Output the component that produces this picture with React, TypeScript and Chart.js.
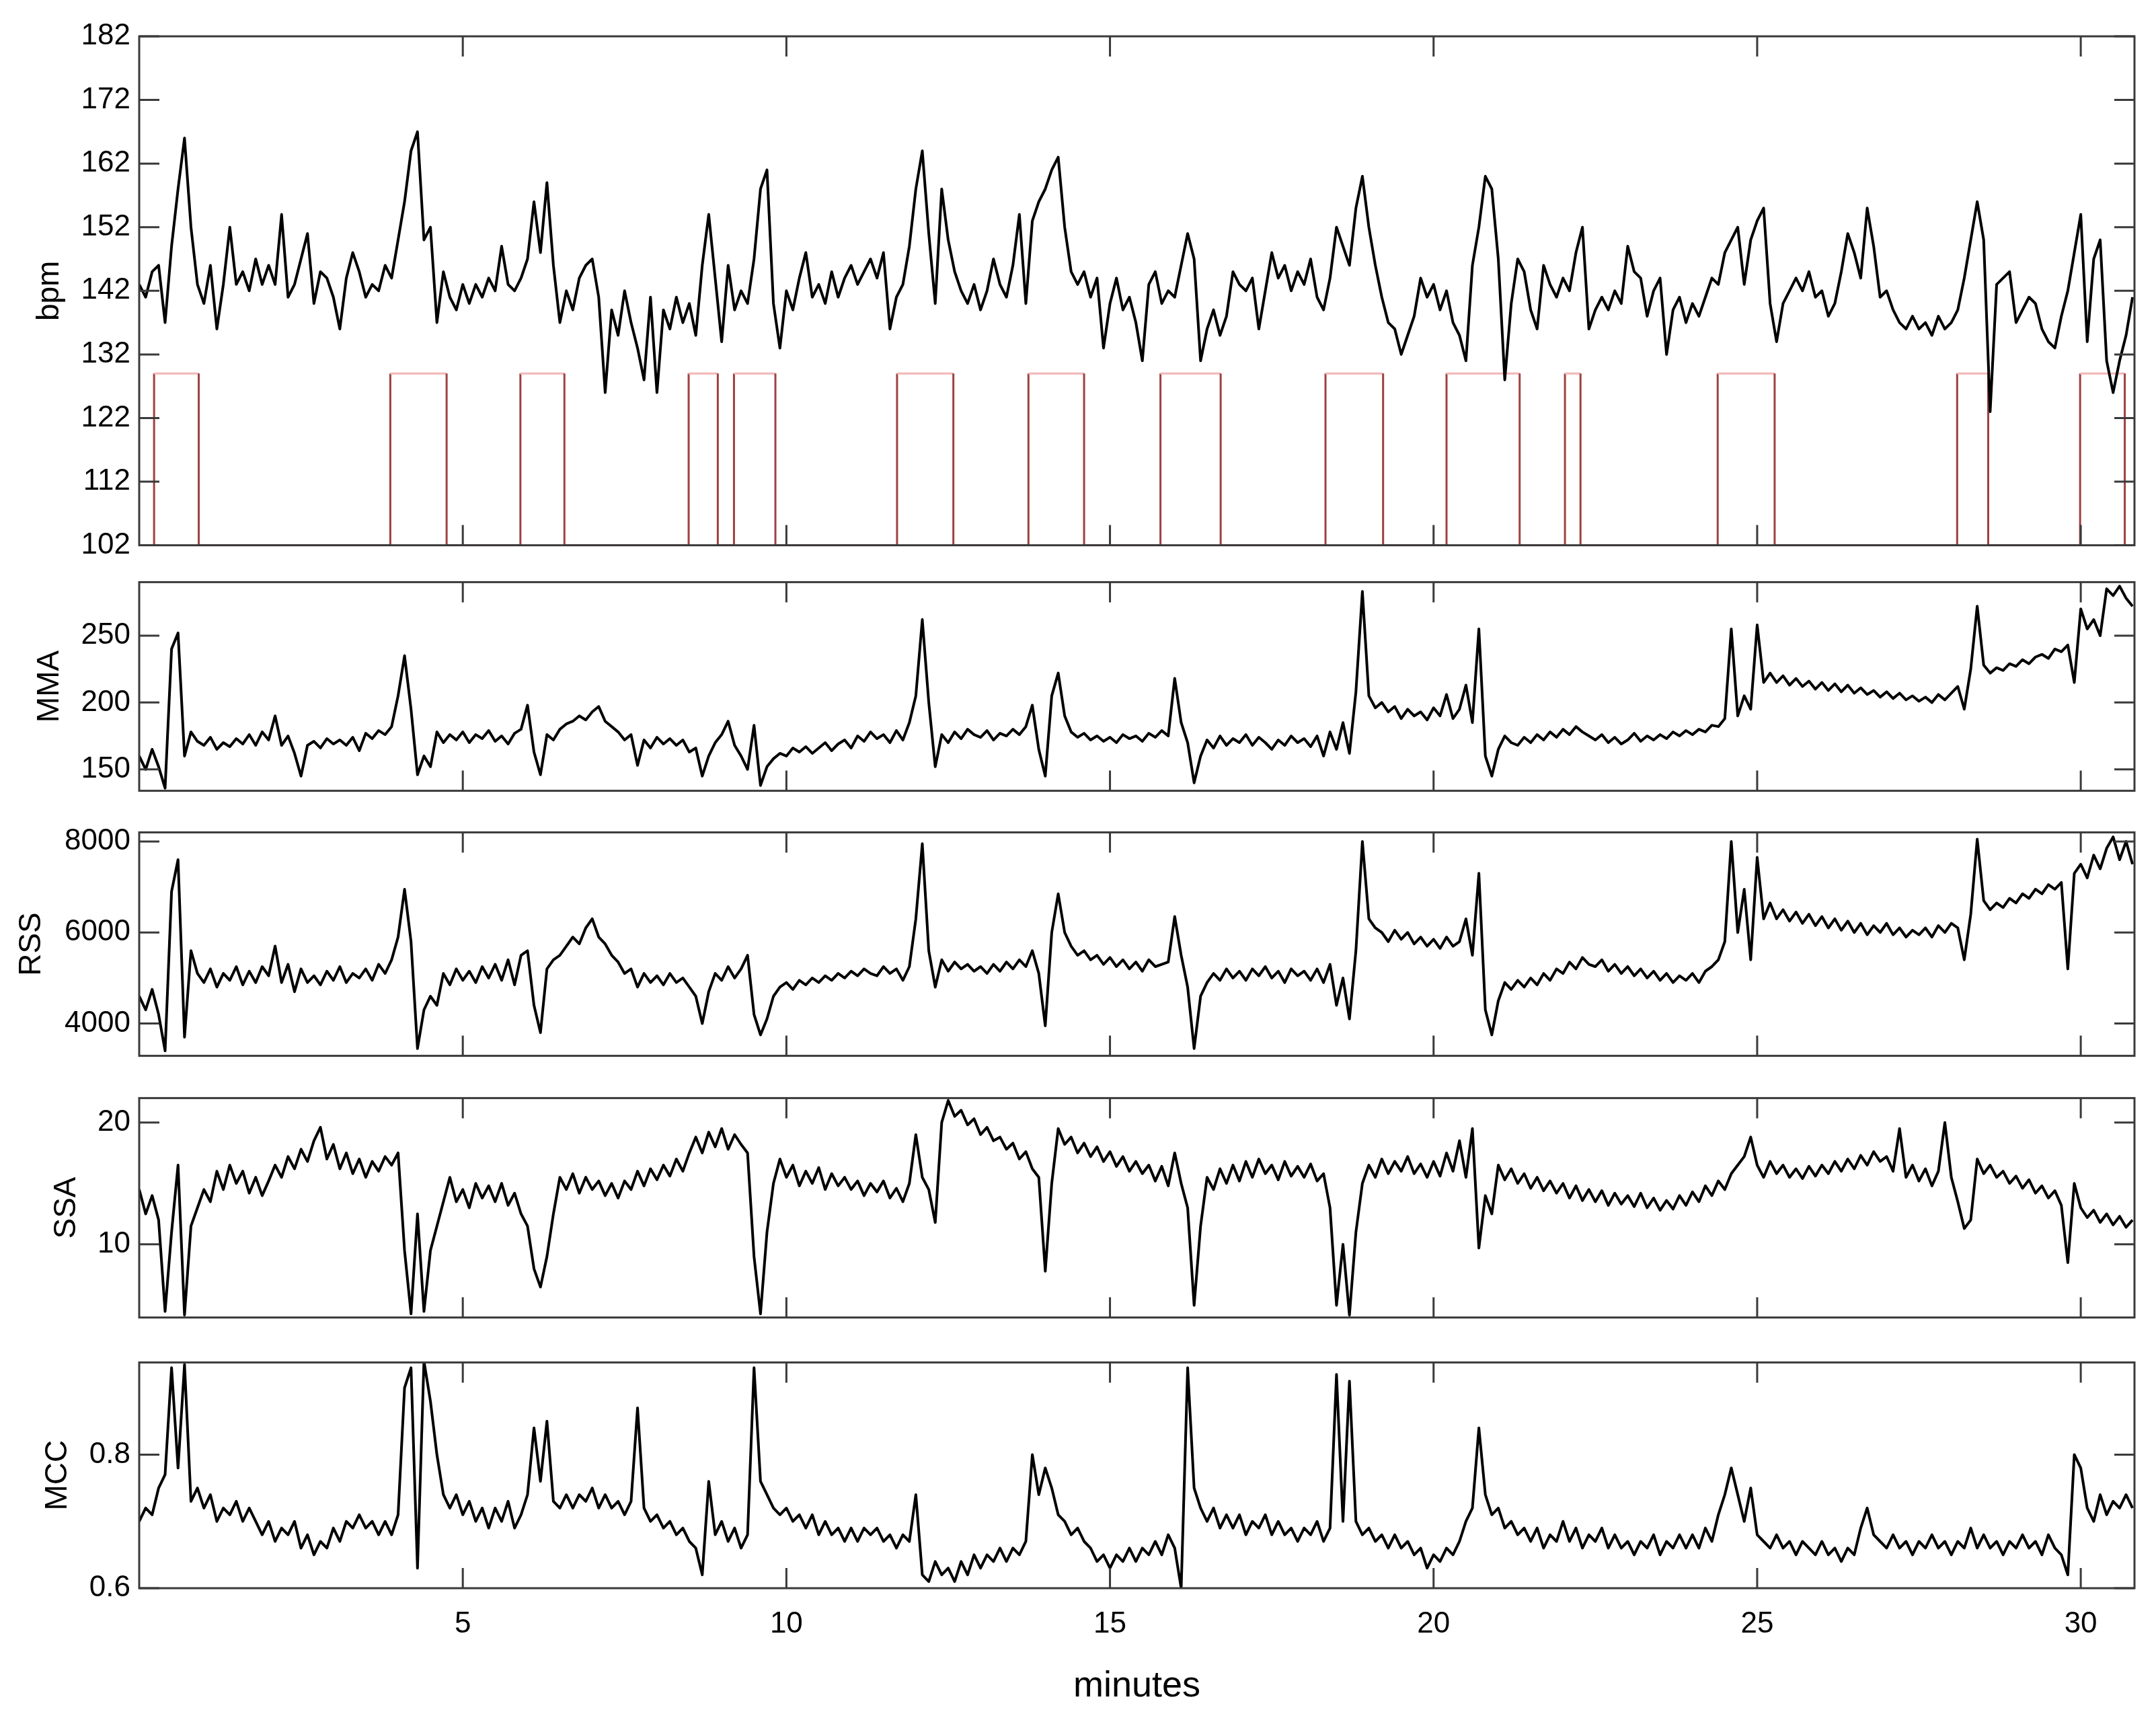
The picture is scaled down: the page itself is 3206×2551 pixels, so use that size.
import React, { useEffect, useRef } from 'react';
import { Chart, registerables } from 'chart.js';

Chart.register(...registerables);

// ---------------- data ----------------
const SAMPLE_STEP = 0.1; // minutes between samples
const X_MIN = 0;
const X_MAX = 30.83;
const X_TICKS = [5, 10, 15, 20, 25, 30];

const BPM = [
  143,141,145,146,137,149,158,166,152,143,
  140,146,136,143,152,143,145,142,147,143,
  146,143,154,141,143,147,151,140,145,144,
  141,136,144,148,145,141,143,142,146,144,
  150,156,164,167,150,152,137,145,141,139,
  143,140,143,141,144,142,149,143,142,144,
  147,156,148,159,146,137,142,139,144,146,
  147,141,126,139,135,142,137,133,128,141,
  126,139,136,141,137,140,135,146,154,144,
  134,146,139,142,140,147,158,161,140,133,
  142,139,144,148,141,143,140,145,141,144,
  146,143,145,147,144,148,136,141,143,149,
  158,164,151,140,158,150,145,142,140,143,
  139,142,147,143,141,146,154,140,153,156,
  158,161,163,152,145,143,145,141,144,133,
  140,144,139,141,137,131,143,145,140,142,
  141,146,151,147,131,136,139,135,138,145,
  143,142,144,136,142,148,144,146,142,145,
  143,147,141,139,144,152,149,146,155,160,
  152,146,141,137,136,132,135,138,144,141,
  143,139,142,137,135,131,146,152,160,158,
  147,128,140,147,145,139,136,146,143,141,
  144,142,148,152,136,139,141,139,142,140,
  149,145,144,138,142,144,132,139,141,137,
  140,138,141,144,143,148,150,152,143,150,
  153,155,140,134,140,142,144,142,145,141,
  142,138,140,145,151,148,144,155,149,141,
  142,139,137,136,138,136,137,135,138,136,
  137,139,144,150,156,150,123,143,144,145,
  137,139,141,140,136,134,133,138,142,148,
  154,134,147,150,131,126,131,135,141,
];

const MMA = [
  160,150,165,152,136,240,252,160,178,171,
  168,174,165,170,167,173,169,176,168,178,
  172,190,168,175,162,145,168,171,166,173,
  169,172,168,174,164,177,173,179,176,182,
  205,235,195,146,160,152,178,170,176,172,
  178,170,176,173,179,171,175,169,177,180,
  198,163,146,176,172,180,184,186,190,187,
  193,197,186,182,178,172,176,153,172,166,
  174,169,173,168,172,163,166,145,160,170,
  176,186,168,160,150,183,138,152,158,162,
  160,166,163,167,162,166,170,164,169,172,
  166,175,171,178,173,176,170,179,172,185,
  205,262,200,152,176,170,178,173,180,176,
  174,179,172,177,175,180,176,182,198,165,
  145,205,222,190,178,174,177,172,175,171,
  174,170,176,173,175,171,177,174,179,175,
  218,185,170,140,160,172,166,175,168,173,
  170,176,168,174,170,165,172,168,175,170,
  173,167,175,160,178,165,185,162,208,283,
  205,196,200,193,197,188,195,190,193,187,
  196,190,206,188,195,213,185,255,160,145,
  165,175,170,168,174,170,176,172,178,174,
  180,176,182,178,175,172,176,170,174,169,
  172,177,171,175,172,176,173,178,175,179,
  176,180,178,183,182,188,255,190,205,195,
  258,215,222,215,220,213,218,212,216,210,
  215,209,214,208,213,207,211,206,209,204,
  208,203,207,202,205,201,204,200,206,202,
  207,212,195,225,272,228,222,226,224,229,
  227,232,229,234,236,233,240,238,243,215,
  270,255,262,250,285,280,287,278,272,
];

const RSS = [
  4600,4300,4750,4200,3400,6900,7600,3700,5600,5100,
  4900,5200,4800,5100,4950,5250,4850,5150,4900,5250,
  5050,5700,4900,5300,4700,5200,4900,5050,4850,5150,
  4950,5250,4900,5100,5000,5200,4950,5300,5100,5400,
  5900,6950,5800,3450,4300,4600,4400,5100,4850,5200,
  4950,5150,4900,5250,5000,5300,4950,5400,4850,5500,
  5600,4400,3800,5200,5400,5500,5700,5900,5750,6100,
  6300,5900,5750,5500,5350,5100,5200,4800,5100,4900,
  5050,4850,5100,4900,5000,4800,4600,4000,4700,5100,
  4950,5250,5000,5200,5500,4200,3750,4100,4600,4800,
  4900,4750,4950,4850,5000,4900,5050,4950,5100,5000,
  5150,5050,5200,5100,5050,5250,5100,5200,4950,5250,
  6300,7950,5600,4800,5400,5150,5350,5200,5300,5150,
  5250,5100,5300,5150,5350,5200,5400,5250,5600,5100,
  3950,6000,6850,6000,5700,5500,5600,5400,5500,5300,
  5450,5250,5400,5200,5350,5150,5400,5250,5300,5350,
  6350,5500,4800,3450,4600,4900,5100,4950,5200,5000,
  5150,4950,5200,5050,5250,5000,5150,4900,5200,5050,
  5150,4950,5200,4900,5300,4400,5000,4100,5600,8000,
  6300,6100,6000,5800,6050,5850,6000,5750,5900,5700,
  5850,5650,5900,5700,5800,6300,5500,7300,4300,3750,
  4500,4900,4750,4950,4800,5000,4850,5100,4950,5200,
  5100,5350,5200,5450,5300,5250,5400,5150,5300,5100,
  5250,5050,5200,5000,5150,4950,5100,4900,5050,4950,
  5100,4900,5150,5250,5400,5800,8000,6000,6950,5400,
  7650,6300,6650,6300,6500,6250,6450,6200,6400,6150,
  6350,6100,6300,6050,6250,6000,6200,5950,6150,6000,
  6200,5950,6100,5900,6050,5950,6100,5900,6150,6000,
  6200,6100,5400,6400,8050,6700,6500,6650,6550,6750,
  6650,6850,6750,6950,6850,7050,6950,7100,5200,7300,
  7500,7200,7700,7400,7850,8100,7600,8000,7500,
];

const SSA = [
  14.5,12.5,14,12,4.5,11,16.5,4.2,11.5,13,
  14.5,13.5,16,14.5,16.5,15,16,14.2,15.5,14,
  15.2,16.5,15.5,17.2,16.2,17.8,16.8,18.5,19.6,17,
  18.2,16.2,17.5,15.8,17,15.5,16.8,16,17.2,16.5,
  17.5,9.5,4.3,12.5,4.5,9.5,11.5,13.5,15.5,13.5,
  14.5,13,15,13.8,14.8,13.5,15,13.2,14.2,12.5,
  11.5,8,6.5,9,12.5,15.5,14.5,15.8,14.2,15.5,
  14.5,15.2,14,15,13.8,15.2,14.5,16,14.8,16.2,
  15.3,16.5,15.6,17,16,17.5,18.8,17.5,19.2,18,
  19.5,17.8,19,18.2,17.5,9,4.3,11,15,17,
  15.5,16.5,14.8,16,15,16.3,14.5,15.8,14.8,15.5,
  14.5,15.2,14,15,14.3,15.2,13.8,14.6,13.5,15,
  19,15.5,14.5,11.8,20,21.8,20.5,21,19.8,20.3,
  19,19.6,18.5,18.8,17.8,18.3,17,17.6,16.2,15.5,
  7.8,15,19.5,18.2,18.8,17.5,18.3,17.2,18,16.8,
  17.6,16.4,17.2,16,16.8,15.8,16.5,15.2,16.4,14.8,
  17.5,15,13,5,11.5,15.5,14.5,16.2,15,16.5,
  15.2,16.8,15.5,17,15.8,16.5,15.3,16.8,15.6,16.4,
  15.5,16.6,15.2,15.8,13,5,10,4.2,11,15,
  16.5,15.5,17,15.8,16.8,16,17.2,15.8,16.6,15.5,
  16.8,15.6,17.5,16,18.5,15.5,19.5,9.7,14,12.5,
  16.5,15.3,16.2,15,15.8,14.6,15.5,14.4,15.2,14.2,
  15,13.8,14.8,13.6,14.5,13.5,14.4,13.2,14.2,13.3,
  14,13.1,14.2,13,13.8,12.8,13.6,12.9,14,13.2,
  14.3,13.5,14.8,14,15.2,14.5,15.8,16.5,17.2,18.8,
  16.5,15.5,16.8,15.8,16.5,15.5,16.2,15.4,16.4,15.6,
  16.5,15.8,16.8,16,17,16.2,17.3,16.5,17.6,16.8,
  17.2,16,19.5,15.5,16.5,15.2,16.2,14.8,16,20,
  15.5,13.5,11.3,12,17,15.8,16.5,15.5,16,15,
  15.6,14.6,15.3,14.2,14.8,13.8,14.4,13.2,8.5,15,
  13,12.2,12.8,11.8,12.5,11.6,12.3,11.4,12,
];

const MCC = [
  0.70,0.72,0.71,0.75,0.77,0.93,0.78,0.935,0.73,0.75,
  0.72,0.74,0.70,0.72,0.71,0.73,0.70,0.72,0.70,0.68,
  0.70,0.67,0.69,0.68,0.70,0.66,0.68,0.65,0.67,0.66,
  0.69,0.67,0.70,0.69,0.71,0.69,0.70,0.68,0.70,0.68,
  0.71,0.90,0.93,0.63,0.94,0.88,0.80,0.74,0.72,0.74,
  0.71,0.73,0.70,0.72,0.69,0.72,0.70,0.73,0.69,0.71,
  0.74,0.84,0.76,0.85,0.73,0.72,0.74,0.72,0.74,0.73,
  0.75,0.72,0.74,0.72,0.73,0.71,0.73,0.87,0.72,0.70,
  0.71,0.69,0.70,0.68,0.69,0.67,0.66,0.62,0.76,0.68,
  0.70,0.67,0.69,0.66,0.68,0.93,0.76,0.74,0.72,0.71,
  0.72,0.70,0.71,0.69,0.71,0.68,0.70,0.68,0.69,0.67,
  0.69,0.67,0.69,0.68,0.69,0.67,0.68,0.66,0.68,0.67,
  0.74,0.62,0.61,0.64,0.62,0.63,0.61,0.64,0.62,0.65,
  0.63,0.65,0.64,0.66,0.64,0.66,0.65,0.67,0.80,0.74,
  0.78,0.75,0.71,0.70,0.68,0.69,0.67,0.66,0.64,0.65,
  0.63,0.65,0.64,0.66,0.64,0.66,0.65,0.67,0.65,0.68,
  0.66,0.60,0.93,0.75,0.72,0.70,0.72,0.69,0.71,0.69,
  0.71,0.68,0.70,0.69,0.71,0.68,0.70,0.68,0.69,0.67,
  0.69,0.68,0.70,0.67,0.69,0.92,0.70,0.91,0.70,0.68,
  0.69,0.67,0.68,0.66,0.68,0.66,0.67,0.65,0.66,0.63,
  0.65,0.64,0.66,0.65,0.67,0.70,0.72,0.84,0.74,0.71,
  0.72,0.69,0.70,0.68,0.69,0.67,0.69,0.66,0.68,0.67,
  0.70,0.67,0.69,0.66,0.68,0.67,0.69,0.66,0.68,0.66,
  0.67,0.65,0.67,0.66,0.68,0.65,0.67,0.66,0.68,0.66,
  0.68,0.66,0.69,0.67,0.71,0.74,0.78,0.74,0.70,0.75,
  0.68,0.67,0.66,0.68,0.66,0.67,0.65,0.67,0.66,0.65,
  0.67,0.65,0.66,0.64,0.66,0.65,0.69,0.72,0.68,0.67,
  0.66,0.68,0.66,0.67,0.65,0.67,0.66,0.68,0.66,0.67,
  0.65,0.67,0.66,0.69,0.66,0.68,0.66,0.67,0.65,0.67,
  0.66,0.68,0.66,0.67,0.65,0.68,0.66,0.65,0.62,0.80,
  0.78,0.72,0.70,0.74,0.71,0.73,0.72,0.74,0.72,
];

// indicator boxes (minutes) drawn in the bpm panel
const BOX_STARTS = [0.23, 3.88, 5.89, 8.49, 9.19, 11.71, 13.74, 15.78, 18.33, 20.2, 22.03, 24.39, 28.09, 29.99];
const BOX_ENDS = [0.92, 4.75, 6.57, 8.94, 9.83, 12.58, 14.6, 16.71, 19.22, 21.33, 22.27, 25.27, 28.57, 30.68];
const BOX_LOW = 102;
const BOX_HIGH = 129;

const BPM_TICKS = [102, 112, 122, 132, 142, 152, 162, 172, 182];
const MMA_TICKS = [150, 200, 250];
const RSS_TICKS = [4000, 6000, 8000];
const SSA_TICKS = [10, 20];
const MCC_TICKS = [0.6, 0.8];

// ---------------- layout ----------------
const W = 3206;
const H = 2551;
const PLOT_LEFT = 207;
const PLOT_RIGHT = 3174;
const TICK_LEN = 30;
const FONT = '"Liberation Sans", Arial, Helvetica, sans-serif';

type Spec = {
  label: string;
  values: number[];
  ticks: number[];
  min: number;
  max: number;
  top: number;
  bottom: number;
  canvasTop: number;
  canvasBottom: number;
  titleCenter: number;
  showX: boolean;
  boxes?: boolean;
};

const PANELS: Spec[] = [
  { label: 'bpm', values: BPM, ticks: BPM_TICKS, min: 102, max: 182, top: 54, bottom: 816, canvasTop: 0, canvasBottom: 850, titleCenter: 74, showX: false, boxes: true },
  { label: 'MMA', values: MMA, ticks: MMA_TICKS, min: 134, max: 290, top: 856, bottom: 1185, canvasTop: 826, canvasBottom: 1215, titleCenter: 74, showX: false },
  { label: 'RSS', values: RSS, ticks: RSS_TICKS, min: 3290, max: 8200, top: 1228, bottom: 1579, canvasTop: 1198, canvasBottom: 1609, titleCenter: 47, showX: false },
  { label: 'SSA', values: SSA, ticks: SSA_TICKS, min: 4, max: 22, top: 1623, bottom: 1968, canvasTop: 1593, canvasBottom: 1998, titleCenter: 99, showX: false },
  { label: 'MCC', values: MCC, ticks: MCC_TICKS, min: 0.6, max: 0.938, top: 2016, bottom: 2361, canvasTop: 1986, canvasBottom: H, titleCenter: 86, showX: true },
];

const framePlugin = {
  id: 'matlabFrame',
  afterDatasetsDraw(chart: any) {
    const { ctx, chartArea } = chart;
    const { left, right, top, bottom } = chartArea;
    const xs = chart.scales.x;
    const ys = chart.scales.y;
    ctx.save();
    ctx.strokeStyle = '#3a3a3a';
    ctx.lineWidth = 3;
    ctx.beginPath();
    for (const v of X_TICKS) {
      const px = xs.getPixelForValue(v);
      ctx.moveTo(px, bottom);
      ctx.lineTo(px, bottom - TICK_LEN);
      ctx.moveTo(px, top);
      ctx.lineTo(px, top + TICK_LEN);
    }
    for (const t of ys.ticks) {
      const py = ys.getPixelForValue(t.value);
      ctx.moveTo(left, py);
      ctx.lineTo(left + TICK_LEN, py);
      ctx.moveTo(right, py);
      ctx.lineTo(right - TICK_LEN, py);
    }
    ctx.stroke();
    ctx.strokeRect(left, top, right - left, bottom - top);
    ctx.restore();
  },
};

function buildConfig(spec: Spec): any {
  const pts = spec.values.map((v, i) => ({ x: Math.round(i * SAMPLE_STEP * 100) / 100, y: v }));
  const datasets: any[] = [
    {
      data: pts,
      borderColor: '#000000',
      borderWidth: 4,
      pointRadius: 0,
      tension: 0,
      fill: false,
      borderJoinStyle: 'round',
    },
  ];
  if (spec.boxes) {
    const stepPts: { x: number; y: number }[] = [{ x: X_MIN, y: BOX_LOW }];
    BOX_STARTS.forEach((s, i) => {
      stepPts.push({ x: s, y: BOX_LOW }, { x: s, y: BOX_HIGH }, { x: BOX_ENDS[i], y: BOX_HIGH }, { x: BOX_ENDS[i], y: BOX_LOW });
    });
    stepPts.push({ x: X_MAX, y: BOX_LOW });
    datasets.push({
      data: stepPts,
      borderWidth: 3,
      pointRadius: 0,
      tension: 0,
      fill: false,
      borderColor: '#9b3434',
      segment: {
        borderColor: (c: any) =>
          c.p0.parsed.x === c.p1.parsed.x ? '#a04040' : c.p0.parsed.y === BOX_HIGH ? '#f2b6b6' : '#8a2a2a',
      },
    });
  }

  const padTop = spec.top - spec.canvasTop;
  const padBottom = spec.showX ? 0 : spec.canvasBottom - spec.bottom;
  const titleFont = 46;

  const xScale: any = {
    type: 'linear',
    min: X_MIN,
    max: X_MAX,
    display: spec.showX,
    grid: { display: false, drawTicks: false },
    border: { display: false },
    afterBuildTicks: (s: any) => {
      s.ticks = X_TICKS.map((v) => ({ value: v }));
    },
    ticks: {
      padding: 27,
      color: '#000',
      font: { size: 44, family: FONT },
      maxRotation: 0,
      autoSkip: false,
      callback: (v: any) => String(v),
    },
  };
  if (spec.showX) {
    xScale.afterFit = (s: any) => {
      s.height = H - spec.bottom;
    };
    xScale.title = {
      display: true,
      text: 'minutes',
      color: '#000',
      font: { size: 54, family: FONT },
      padding: { top: 0, bottom: 11 },
    };
  }

  return {
    type: 'line',
    data: { datasets },
    plugins: [framePlugin],
    options: {
      responsive: false,
      animation: false,
      devicePixelRatio: 1,
      layout: { padding: { left: 0, right: W - PLOT_RIGHT, top: padTop, bottom: padBottom } },
      plugins: { legend: { display: false }, tooltip: { enabled: false }, title: { display: false } },
      events: [],
      scales: {
        x: xScale,
        y: {
          type: 'linear',
          min: spec.min,
          max: spec.max,
          grid: { display: false, drawTicks: false },
          border: { display: false },
          afterBuildTicks: (s: any) => {
            s.ticks = spec.ticks.map((v) => ({ value: v }));
          },
          afterFit: (s: any) => {
            s.width = PLOT_LEFT;
          },
          ticks: {
            padding: 13,
            color: '#000',
            font: { size: 44, family: FONT },
            callback: (v: any) => String(v),
          },
          title: {
            display: true,
            text: spec.label,
            color: '#000',
            font: { size: titleFont, family: FONT },
            padding: { top: spec.titleCenter - (titleFont * 1.2) / 2, bottom: 0 },
          },
        },
      },
    },
  };
}

function Panel({ spec }: { spec: Spec }) {
  const ref = useRef<HTMLCanvasElement | null>(null);
  const h = spec.canvasBottom - spec.canvasTop;
  useEffect(() => {
    if (!ref.current) return;
    const chart = new Chart(ref.current, buildConfig(spec));
    return () => chart.destroy();
  }, [spec]);
  return (
    <canvas
      ref={ref}
      width={W}
      height={h}
      style={{ position: 'absolute', left: 0, top: spec.canvasTop, width: W, height: h, display: 'block' }}
    />
  );
}

export default function App() {
  return (
    <div style={{ position: 'absolute', left: 0, top: 0, width: W, height: H, background: '#ffffff', overflow: 'hidden' }}>
      {PANELS.map((p) => (
        <Panel key={p.label} spec={p} />
      ))}
    </div>
  );
}
